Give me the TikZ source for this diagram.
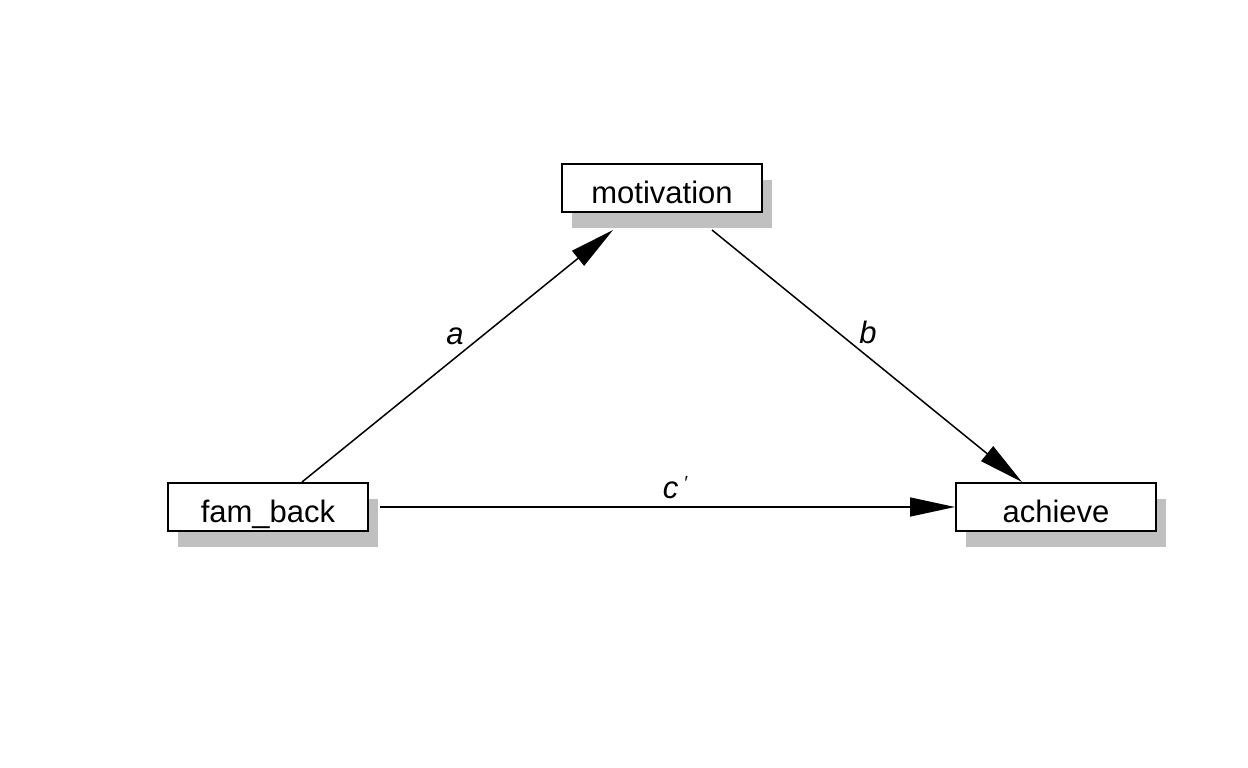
\documentclass[tikz,border=0pt]{standalone}
\usepackage{fontspec}
\setmainfont{Liberation Sans}
\usetikzlibrary{arrows.meta,calc,shadows}
\definecolor{shadowgray}{HTML}{C0C0C0}
\begin{document}
\begin{tikzpicture}[x=1pt,y=-1pt,
  varbox/.style={draw=black, line width=2pt, fill=white, minimum width=200pt, minimum height=48pt,
    inner sep=0pt, text height=30pt, text depth=0pt, font=\fontsize{31}{36}\selectfont,
    drop shadow={shadow xshift=10pt, shadow yshift=-16pt, fill=shadowgray, opacity=1}},
  path/.style={line width=1.5pt, -{Triangle[length=45pt,width=19pt]}},
  lbl/.style={font=\fontsize{31}{36}\selectfont\itshape, inner sep=0pt}]
\useasboundingbox (0,0) rectangle (1248,768);
\fill[white] (0,0) rectangle (1248,768);
\node[varbox] (mot) at (662,188) {motivation};
\node[varbox] (fam) at (268,507) {fam\_back};
\node[varbox] (ach) at (1056,507) {achieve};
\draw[path] ($(fam.north)+(34,0)$) -- ($(mot.south)+(-49,17)$);
\draw[path] ($(mot.south)+(50,17)$) -- ($(ach.north)+(-34,0)$);
\draw[path] ($(fam.east)+(11,0)$) -- (ach.west);
\node[lbl] (la) at (455,336) {a};
\node[lbl] (lb) at (868,332.5) {b};
\node[lbl, anchor=base] (lc) at (675,498) {c\,\raisebox{9pt}{\fontsize{19}{19}\selectfont\char"2032}};
\end{tikzpicture}
\end{document}
